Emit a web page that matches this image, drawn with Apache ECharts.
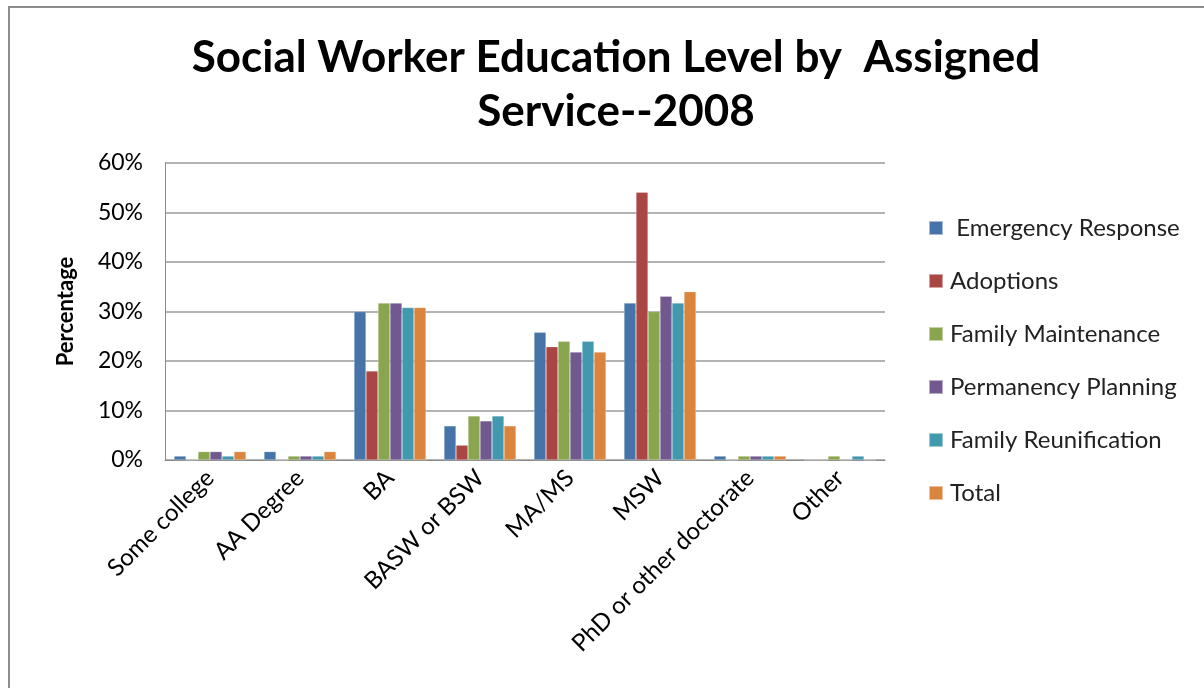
<!DOCTYPE html>
<html>
<head>
<meta charset="utf-8">
<script src="https://cdn.jsdelivr.net/npm/echarts@6/dist/echarts.min.js"></script>
<style>
  html, body { margin: 0; padding: 0; background: #fff; }
  #chart { width: 1204px; height: 688px; }
</style>
</head>
<body>
<div id="chart"></div>
<script>
// Categories and per-series values (percent)
const categories = ['Some college', 'AA Degree', 'BA', 'BASW or BSW', 'MA/MS', 'MSW', 'PhD or other doctorate', 'Other'];
const emergencyResponse   = [0.8, 1.7, 30.0, 6.9, 25.8, 31.7, 0.8, 0];
const adoptions           = [0,   0,   18.0, 3.0, 22.9, 54.1, 0,   0];
const familyMaintenance   = [1.7, 0.8, 31.7, 8.9, 24.0, 30.0, 0.8, 0.8];
const permanencyPlanning  = [1.7, 0.8, 31.7, 7.9, 21.8, 33.1, 0.8, 0];
const familyReunification = [0.8, 0.8, 30.8, 8.9, 24.0, 31.7, 0.8, 0.8];
const total               = [1.7, 1.7, 30.8, 6.9, 21.8, 34.0, 0.8, 0];
const yTicks = [0, 10, 20, 30, 40, 50, 60];

const seriesNames = [' Emergency Response', 'Adoptions', 'Family Maintenance', 'Permanency Planning', 'Family Reunification', 'Total'];
const seriesData = [emergencyResponse, adoptions, familyMaintenance, permanencyPlanning, familyReunification, total];
const colors = ['#4674A8', '#AA4643', '#89A54E', '#71588F', '#4198AF', '#DB843D'];

const FONT = 'Lato, "Open Sans", sans-serif';

const chart = echarts.init(document.getElementById('chart'));
chart.setOption({
  animation: false,
  color: colors,
  textStyle: { fontFamily: FONT },
  graphic: [{
    type: 'rect',
    shape: { x: 9, y: 7, width: 1210, height: 700 },
    style: { fill: 'none', stroke: '#8c8c8c', lineWidth: 2 }
  }],
  title: {
    text: 'Social Worker Education Level by  Assigned\nService--2008',
    left: 611, top: 26, textAlign: 'center',
    textStyle: { fontFamily: FONT, fontSize: 44, fontWeight: 'bold', color: '#000', lineHeight: 54 }
  },
  legend: {
    orient: 'vertical',
    left: 928, top: 216, padding: 0,
    itemWidth: 14, itemHeight: 14, itemGap: 29,
    icon: 'rect',
    textStyle: { fontFamily: FONT, fontSize: 24, color: '#222', padding: [0, 0, 0, 2] },
    data: seriesNames
  },
  grid: { left: 165, right: 319, top: 163, bottom: 228 },
  xAxis: {
    type: 'category',
    data: categories,
    axisLine: { lineStyle: { color: '#8c8c8c', width: 1 } },
    axisTick: { show: false },
    axisLabel: { rotate: 45, interval: 0, margin: 14, fontFamily: FONT, fontSize: 24, color: '#000' }
  },
  yAxis: {
    type: 'value',
    min: yTicks[0], max: yTicks[yTicks.length - 1], interval: 10,
    name: 'Percentage', nameLocation: 'middle', nameGap: 88, nameRotate: 90,
    nameTextStyle: { fontFamily: FONT, fontSize: 22, fontWeight: 'bold', color: '#000' },
    axisLine: { show: true, lineStyle: { color: '#8c8c8c' } },
    axisTick: { show: false },
    axisLabel: { formatter: v => v + '%', margin: 22, fontFamily: FONT, fontSize: 23, color: '#000' },
    splitLine: { lineStyle: { color: '#9a9a9a', width: 1.5 } }
  },
  series: seriesNames.map((name, i) => ({
    name,
    type: 'bar',
    data: seriesData[i],
    barGap: '0%',
    barCategoryGap: '20%',
    itemStyle: { color: colors[i], borderColor: 'rgba(255,255,255,0.5)', borderWidth: 0.5 }
  }))
});
</script>
</body>
</html>
